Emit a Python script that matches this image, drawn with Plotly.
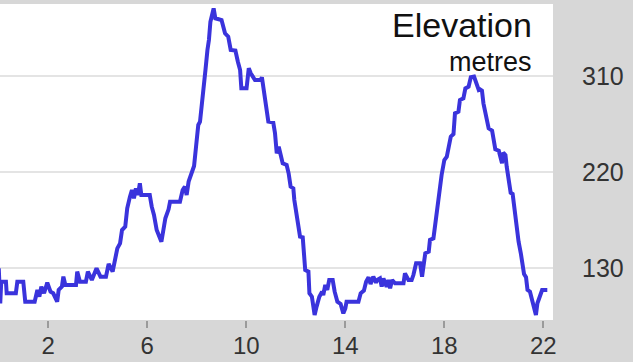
import plotly.graph_objects as go

distance_km = [
    0.0, 0.06, 0.1, 0.29, 0.32, 0.69, 0.75, 0.99, 1.07, 1.45, 1.56, 1.64, 1.72, 1.83, 1.96, 2.09, 2.2, 2.36,
    2.42, 2.55, 2.61, 2.69, 3.12, 3.17, 3.28, 3.52, 3.6, 3.76, 3.95, 4.11, 4.33, 4.44, 4.6, 4.71, 4.79, 4.9,
    4.98, 5.11, 5.19, 5.3, 5.38, 5.46, 5.54, 5.62, 5.7, 5.76, 6.1,
    6.18, 6.27, 6.38, 6.49, 6.57, 6.65, 6.73, 6.86, 6.92, 7.32, 7.43, 7.52, 7.59, 7.67, 7.79, 7.89, 7.97, 8.06,
    8.13, 8.21, 8.29, 8.35, 8.43, 8.49, 8.55, 8.61, 8.68, 8.75, 9.0, 9.14, 9.27, 9.37, 9.56, 9.66, 9.75, 9.8,
    10.01, 10.1, 10.18, 10.35, 10.58, 10.63, 10.72, 10.8,
    10.89, 11.09, 11.16, 11.23, 11.31, 11.39, 11.47, 11.63, 11.71, 11.79, 11.9, 11.94, 12.01, 12.1, 12.17,
    12.28, 12.33, 12.38, 12.51, 12.55, 12.65, 12.71, 12.76, 12.84, 12.95, 13.06, 13.11, 13.19, 13.27, 13.35,
    13.49, 13.57, 13.68, 13.81, 13.92, 14.0, 14.05, 14.53, 14.62, 14.75, 14.84, 14.94, 15.02, 15.13, 15.24,
    15.29, 15.4, 15.47, 15.54, 15.67, 15.74, 15.81, 15.89, 16.01, 16.35, 16.41, 16.55, 16.68, 16.75, 16.86,
    17.02, 17.1, 17.15, 17.23, 17.37, 17.42, 17.56, 17.62, 17.69, 17.8, 17.89, 18.0, 18.1, 18.18, 18.26,
    18.37, 18.43, 18.57, 18.63, 18.77, 18.85, 18.98, 19.07, 19.2, 19.31, 19.39,
    19.44, 19.52, 19.58, 19.66, 19.74, 19.79, 19.93, 19.98, 20.06, 20.2, 20.25, 20.33, 20.38, 20.47, 20.52,
    20.6, 20.68, 20.76, 20.82, 20.87, 20.95, 21.0, 21.09, 21.14, 21.22, 21.3, 21.36, 21.46, 21.54, 21.62,
    21.7, 21.76, 21.84, 21.95, 22.16,
]

elevation_m = [
    129.7, 96.9, 117.2, 117.2, 106.3, 106.3, 117.2, 117.2, 98.4, 98.4, 109.4, 103.1, 112.5, 106.3, 116.3, 107.8, 106.3, 98.4,
    109.4, 112.5, 121.9, 114.1, 114.1, 126.6, 117.2, 117.2, 126.6, 118.8, 129.7, 121.9, 121.9, 133.8, 126.6, 140.6, 148.4, 153.1,
    165.6, 168.8, 185.9, 196.9, 203.1, 195.3, 204.7, 198.4, 209.4, 198.4, 198.4,
    187.5, 179.7, 165.6, 157.8, 154.7, 165.6, 176.6, 185.0, 192.2, 192.2, 203.1, 206.3, 198.4, 211.0, 220.3, 225.6, 243.8, 264.1,
    267.2, 287.5, 309.4, 315.6, 334.4, 343.8, 360.9, 366.3, 373.4, 364.1, 362.5, 350.0, 346.9, 334.4, 333.8, 323.4, 315.6, 298.4,
    298.4, 317.2, 312.5, 306.3, 306.3, 308.8, 293.8, 279.7,
    267.2, 266.3, 256.3, 237.5, 243.8, 235.9, 228.1, 226.6, 218.8, 206.3, 204.7, 193.8, 182.8, 171.9, 159.4,
    158.8, 145.3, 128.1, 126.6, 106.3, 103.1, 93.8, 85.9, 93.8, 103.1, 107.8, 104.7, 114.1, 109.4, 118.8,
    118.8, 107.8, 98.4, 96.3, 87.5, 92.2, 98.4, 98.4, 106.3, 108.8, 117.2, 121.3, 115.0, 121.9, 116.3,
    118.8, 120.3, 112.5, 120.3, 112.5, 118.8, 110.9, 118.8, 115.6, 115.6, 125.0, 118.8, 118.8, 123.4, 134.4,
    134.4, 121.9, 129.7, 143.8, 145.3, 156.3, 157.8, 168.8, 187.5, 204.7, 217.2, 231.3, 234.4, 243.8, 253.1,
    255.6, 275.0, 276.6, 287.5, 289.1, 298.4, 300.0, 308.8, 309.4, 301.6, 296.9,
    297.5, 296.3, 284.4, 275.0, 269.4, 260.9, 258.8, 250.0, 241.3, 240.0, 234.4, 228.1, 238.1, 235.9, 225.0,
    209.4, 200.6, 199.4, 187.5, 173.4, 162.5, 154.7, 143.8, 133.8, 124.4, 121.3, 109.4, 107.8, 100.6, 93.1,
    85.9, 96.9, 103.1, 109.4, 109.4,
]

x_ticks = [2, 6, 10, 14, 18, 22]
y_ticks = [130, 220, 310]
title_text = "Elevation"
unit_text = "metres"

FONT = "Liberation Sans, Arial, Helvetica, sans-serif"

fig = go.Figure()
fig.add_trace(go.Scatter(
    x=distance_km, y=elevation_m, mode="lines",
    line=dict(color="#3a33dc", width=4),
    hoverinfo="skip", showlegend=False,
))

fig.update_layout(
    width=633, height=362,
    margin=dict(l=0, r=80, t=4, b=42, pad=0, autoexpand=False),
    paper_bgcolor="#d7d7d7",
    plot_bgcolor="#ffffff",
    font=dict(family=FONT, color="#333333"),
    xaxis=dict(
        range=[0.05, 22.39], tickvals=x_ticks, ticktext=[str(v) for v in x_ticks],
        showgrid=False, zeroline=False, showline=False, automargin=False,
        ticks="outside", ticklen=7, tickwidth=1.5, tickcolor="#9a9a9a",
        ticklabelstandoff=-3,
        tickfont=dict(size=24, color="#333333", family=FONT),
        fixedrange=True,
    ),
    yaxis=dict(
        range=[81.25, 377.5], tickvals=y_ticks, ticktext=[str(v) for v in y_ticks],
        side="right", showgrid=True, gridcolor="#e4e4e4", gridwidth=1.5,
        zeroline=False, showline=False, ticks="", automargin=False,
        ticklabelstandoff=28,
        tickfont=dict(size=25, color="#333333", family=FONT),
        fixedrange=True,
    ),
    annotations=[
        dict(text=title_text, xref="paper", yref="paper", x=0.9656, y=0.934,
             xanchor="right", yanchor="middle", showarrow=False,
             font=dict(size=34, color="#111111", family=FONT)),
        dict(text=unit_text, xref="paper", yref="paper", x=0.9656, y=0.815,
             xanchor="right", yanchor="middle", showarrow=False,
             font=dict(size=27, color="#111111", family=FONT)),
    ],
)

fig.write_html(
    "out.html",
    config={"displayModeBar": False},
    post_script="document.body.style.margin='0';document.body.style.overflow='hidden';",
)
